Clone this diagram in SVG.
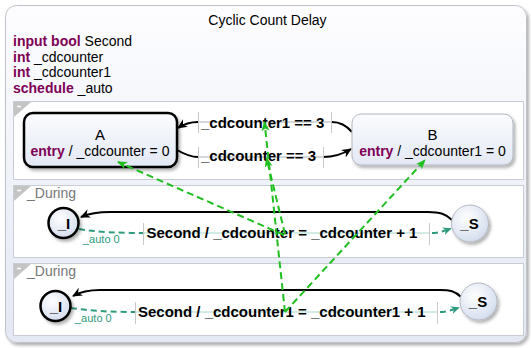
<svg xmlns="http://www.w3.org/2000/svg" width="531" height="348" viewBox="0 0 531 348">
  <defs>
    <linearGradient id="outerFill" x1="0" y1="0" x2="0" y2="1">
      <stop offset="0" stop-color="#fdfdff"/>
      <stop offset="1" stop-color="#e3e8f3"/>
    </linearGradient>
    <linearGradient id="stateFill" x1="0" y1="0" x2="0" y2="1">
      <stop offset="0" stop-color="#fbfcfe"/>
      <stop offset="1" stop-color="#e2e8f4"/>
    </linearGradient>
    <radialGradient id="nodeFill" cx="0.4" cy="0.35" r="0.75">
      <stop offset="0" stop-color="#ffffff"/>
      <stop offset="1" stop-color="#cfd9ec"/>
    </radialGradient>
    <filter id="shadow" x="-20%" y="-20%" width="150%" height="160%">
      <feDropShadow dx="2" dy="2.5" stdDeviation="1.5" flood-color="#000" flood-opacity="0.3"/>
    </filter>
    <marker id="arrowBlack" viewBox="0 0 10 10" refX="9" refY="5" markerWidth="10" markerHeight="10" markerUnits="userSpaceOnUse" orient="auto">
      <path d="M0,0.5 L10,5 L0,9.5 L3,5 Z" fill="#000"/>
    </marker>
    <marker id="arrowTeal" viewBox="0 0 10 10" refX="9" refY="5" markerWidth="9" markerHeight="9" markerUnits="userSpaceOnUse" orient="auto">
      <path d="M0,0.5 L10,5 L0,9.5 L3,5 Z" fill="#2e9a7e"/>
    </marker>
    <marker id="arrowGreen" viewBox="0 0 10 10" refX="9" refY="5" markerWidth="10" markerHeight="10" markerUnits="userSpaceOnUse" orient="auto">
      <path d="M0,1 L10,5 L0,9 L2.5,5 Z" fill="#1fbf1f"/>
    </marker>
    <marker id="tickArrow" viewBox="0 0 10 10" refX="5" refY="5" markerWidth="6" markerHeight="6" markerUnits="userSpaceOnUse" orient="auto">
      <path d="M0,1 L10,5 L0,9 Z" fill="#c8c8c8"/>
    </marker>
  </defs>
  <style>
    text { font-family: "Liberation Sans", Arial, sans-serif; }
    .title { font-size: 14px; fill: #000; }
    .decl { font-size: 14px; fill: #000; }
    .kw { font-weight: bold; fill: #7f0055; }
    .region { fill: #ffffff; stroke: #c9ccd4; stroke-width: 1; }
    .collapse { fill: #c4c4c4; }
    .regionLabel { font-size: 14px; fill: #777; }
    .stateName { font-size: 15px; fill: #000; }
    .action { font-size: 14px; fill: #000; }
    .edgeLabel { font-size: 15px; font-weight: bold; fill: #000; }
    .nodeText { font-size: 15px; font-weight: bold; fill: #000; }
    .prio { font-size: 11px; fill: #2e9a7e; }
    .edge { fill: none; stroke: #000; stroke-width: 2; }
    .behind { fill: none; stroke: #d4d8dc; stroke-width: 2; }
    .behindTeal { fill: none; stroke: #d2ebe3; stroke-width: 2; }
    .tick { stroke: #c8c8c8; stroke-width: 1; }
    .teal { fill: none; stroke: #2e9a7e; stroke-width: 2; stroke-dasharray: 6 4; }
    .dep { fill: none; stroke: #1fbf1f; stroke-width: 2; stroke-dasharray: 7 4; }
  </style>

  <!-- outer state -->
  <g id="CyclicCountDelay">
    <rect x="5.5" y="5.5" width="521" height="337" rx="11" fill="url(#outerFill)" stroke="#bfc2c8" stroke-width="1" filter="url(#shadow)"/>
    <text class="title" x="267.5" y="25" text-anchor="middle">Cyclic Count Delay</text>
    <text class="decl" x="13" y="46"><tspan class="kw">input bool</tspan> Second</text>
    <text class="decl" x="13" y="61.5"><tspan class="kw">int</tspan> _cdcounter</text>
    <text class="decl" x="13" y="77"><tspan class="kw">int</tspan> _cdcounter1</text>
    <text class="decl" x="13" y="92.5"><tspan class="kw">schedule</tspan> _auto</text>
  </g>

  <!-- regions -->
  <g id="region1">
    <rect class="region" x="13.5" y="101.5" width="510" height="78"/>
    <polygon class="collapse" points="14,102 31,102 14,117"/>
    <line x1="17" y1="106.5" x2="21" y2="106.5" stroke="#fff" stroke-width="1.5"/>
  </g>
  <g id="region2">
    <rect class="region" x="13.5" y="185.5" width="510" height="72"/>
    <polygon class="collapse" points="14,186 31,186 14,201"/>
    <line x1="17" y1="190.5" x2="21" y2="190.5" stroke="#fff" stroke-width="1.5"/>
    <text class="regionLabel" x="27" y="197.5">_During</text>
  </g>
  <g id="region3">
    <rect class="region" x="13.5" y="263.5" width="510" height="72"/>
    <polygon class="collapse" points="14,264 31,264 14,279"/>
    <line x1="17" y1="268.5" x2="21" y2="268.5" stroke="#fff" stroke-width="1.5"/>
    <text class="regionLabel" x="27" y="276">_During</text>
  </g>

  <!-- transitions -->
  <g id="connectors">
    <!-- B to A -->
    <path class="behind" d="M332,122 L198,122"/>
    <path class="edge" d="M352,132 C346,125 340,122 332,122"/>
    <path class="edge" d="M198,122 C190,122 184,124 178,128" marker-end="url(#arrowBlack)"/>
    <line class="tick" x1="198.5" y1="112" x2="198.5" y2="133"/>
    <line class="tick" x1="331.5" y1="112" x2="331.5" y2="133"/>
    <text class="edgeLabel" x="201" y="127.5">_cdcounter1 == 3</text>

    <!-- A to B -->
    <path class="behind" d="M198,157 L323,157"/>
    <path class="edge" d="M177,150 C184,154 190,157 198,157"/>
    <path class="edge" d="M323,157 C335,157 343,154 351,149" marker-end="url(#arrowBlack)"/>
    <line class="tick" x1="198.5" y1="147" x2="198.5" y2="168"/>
    <line class="tick" x1="323.5" y1="147" x2="323.5" y2="168"/>
    <text class="edgeLabel" x="201" y="161">_cdcounter == 3</text>

    <!-- region 2: _S back to _I -->
    <path class="edge" d="M452,220 C446,214 440,212 428,212 L110,212 C95,212 88,214 81,217" marker-end="url(#arrowBlack)"/>
    <!-- region 2: _I to _S -->
    <path class="teal" d="M79,229 C95,232 120,233 143,233"/>
    <path class="behindTeal" d="M143,233 L429,233"/>
    <path class="teal" d="M432,233 C438,233 444,231 451,228.5" marker-end="url(#arrowTeal)"/>
    <line class="tick" x1="143.5" y1="223" x2="143.5" y2="245"/>
    <line class="tick" x1="429.5" y1="223" x2="429.5" y2="245"/>
    <text class="prio" x="83" y="243">_auto 0</text>
    <text class="edgeLabel" x="146.5" y="237.5">Second / _cdcounter = _cdcounter + 1</text>

    <!-- region 3: _S back to _I -->
    <path class="edge" d="M461,297 C455,291 450,290 440,290 L100,290 C88,290 80,292 73,296" marker-end="url(#arrowBlack)"/>
    <!-- region 3: _I to _S -->
    <path class="teal" d="M71,308 C90,311 112,312 135,312"/>
    <path class="behindTeal" d="M135,312 L437,312"/>
    <path class="teal" d="M440,312 C446,312 452,310 459,307.5" marker-end="url(#arrowTeal)"/>
    <line class="tick" x1="135.5" y1="302" x2="135.5" y2="324"/>
    <line class="tick" x1="437.5" y1="302" x2="437.5" y2="324"/>
    <text class="prio" x="75" y="321.5">_auto 0</text>
    <text class="edgeLabel" x="138" y="317">Second / _cdcounter1 = _cdcounter1 + 1</text>
  </g>

  <!-- states -->
  <g id="A">
    <rect x="24" y="113" width="153" height="54" rx="9" fill="url(#stateFill)" stroke="#000" stroke-width="2.5" filter="url(#shadow)"/>
    <text class="stateName" x="100" y="140" text-anchor="middle">A</text>
    <text class="action" x="100" y="155.5" text-anchor="middle"><tspan class="kw">entry</tspan> / _cdcounter = 0</text>
  </g>
  <g id="B">
    <rect x="352" y="114" width="161" height="51" rx="9" fill="url(#stateFill)" stroke="#b2b7c2" stroke-width="1" filter="url(#shadow)"/>
    <text class="stateName" x="432.5" y="140" text-anchor="middle">B</text>
    <text class="action" x="432.5" y="155.5" text-anchor="middle"><tspan class="kw">entry</tspan> / _cdcounter1 = 0</text>
  </g>
  <g id="I1">
    <circle cx="63.5" cy="223" r="15" fill="url(#nodeFill)" stroke="#000" stroke-width="2.5" filter="url(#shadow)"/>
    <text class="nodeText" x="64" y="228.5" text-anchor="middle">_I</text>
  </g>
  <g id="S1">
    <circle cx="470" cy="223.5" r="18.5" fill="url(#nodeFill)" stroke="#b2b7c2" stroke-width="1" filter="url(#shadow)"/>
    <text class="nodeText" x="469.5" y="228.5" text-anchor="middle">_S</text>
  </g>
  <g id="I2">
    <circle cx="55.5" cy="306" r="15" fill="url(#nodeFill)" stroke="#000" stroke-width="2.5" filter="url(#shadow)"/>
    <text class="nodeText" x="56" y="311.5" text-anchor="middle">_I</text>
  </g>
  <g id="S2">
    <circle cx="478.5" cy="301.5" r="18.5" fill="url(#nodeFill)" stroke="#b2b7c2" stroke-width="1" filter="url(#shadow)"/>
    <text class="nodeText" x="478" y="306.5" text-anchor="middle">_S</text>
  </g>

  <!-- data dependencies -->
  <g id="dependencies">
    <path class="dep" d="M284,235 L118,162" marker-end="url(#arrowGreen)"/>
    <path class="dep" d="M285,234 L266.5,158" marker-end="url(#arrowGreen)"/>
    <path class="dep" d="M285,312 L264.5,122" marker-end="url(#arrowGreen)"/>
    <path class="dep" d="M285,312 L425,160" marker-end="url(#arrowGreen)"/>
  </g>
</svg>
